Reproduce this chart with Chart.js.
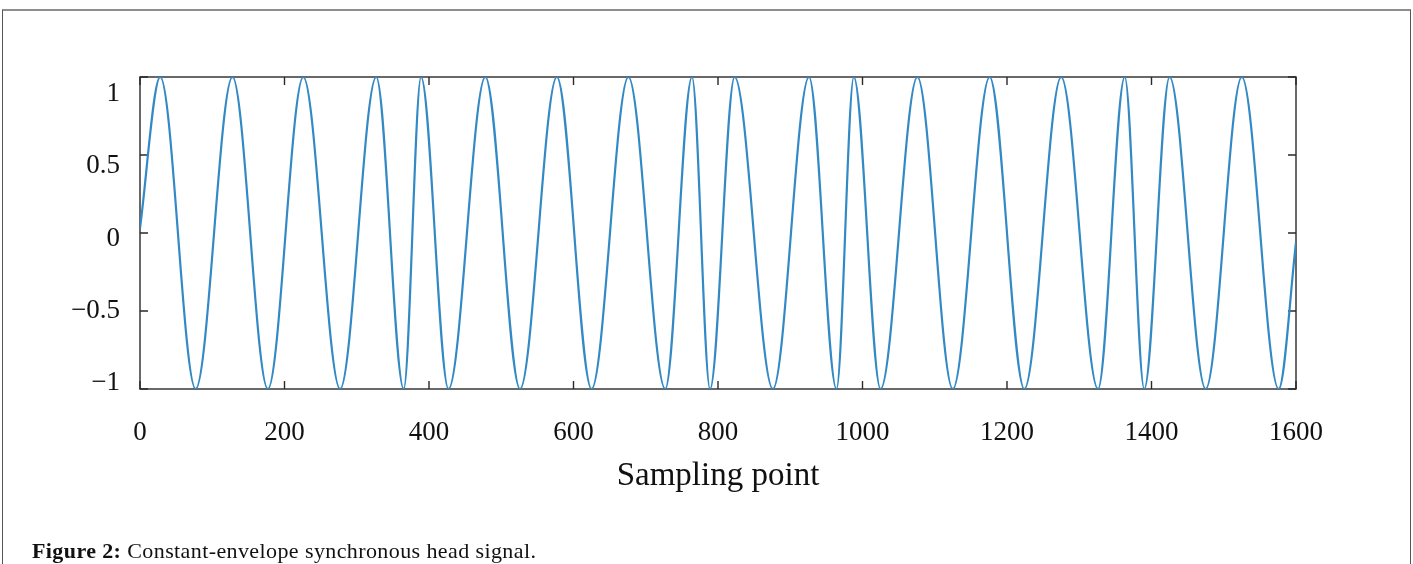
<!DOCTYPE html>
<html>
<head>
<meta charset="utf-8">
<title>Constant-envelope synchronous head signal</title>
<script src="https://cdn.jsdelivr.net/npm/chart.js@4.4.1/dist/chart.umd.min.js"></script>
<style>
  html, body { margin: 0; padding: 0; background: #fff; }
  body { width: 1413px; height: 564px; position: relative; overflow: hidden; }
  #frame {
    position: absolute; left: 2px; top: 9px; width: 1407px; height: 600px;
    border-top: 2px solid #8e8e8e; border-left: 1px solid #555; border-right: 1px solid #555;
  }
  #chart { position: absolute; left: 0; top: 0; }
  #caption {
    position: absolute; left: 32px; top: 540px;
    font-family: "Liberation Serif", serif; font-size: 22px; line-height: 22px;
    letter-spacing: 0.4px; color: #111; white-space: nowrap;
  }
</style>
</head>
<body>
<div id="frame"></div>
<canvas id="chart" width="1413" height="564"></canvas>
<div id="caption"><b>Figure 2:</b> Constant-envelope synchronous head signal.</div>
<script>
// Turning points of the head signal (sample index and amplitude),
// plus the first and last sample of the record.
const sampleIndex = [
  0, 28, 77, 128, 177, 226, 277, 327, 365, 389, 427, 478, 526, 577, 625, 676, 727,
  764, 789, 823, 876, 926, 964, 988, 1025, 1076, 1125, 1176, 1224, 1275, 1326,
  1363, 1390, 1425, 1475, 1525, 1576, 1600
];
const amplitude = [
  0.03, 1, -1, 1, -1, 1, -1, 1, -1, 1, -1, 1, -1, 1, -1, 1, -1,
  1, -1, 1, -1, 1, -1, 1, -1, 1, -1, 1, -1, 1, -1,
  1, -1, 1, -1, 1, -1, -0.06
];

const xTickValues = [0, 200, 400, 600, 800, 1000, 1200, 1400, 1600];
const yTickValues = [-1, -0.5, 0, 0.5, 1];

const serif = 'Liberation Serif';
const fmt = v => String(v).replace('-', '\u2212');

// Plot frame with inward tick marks on all four sides
const boxAndTicks = {
  id: 'boxAndTicks',
  beforeDatasetsDraw(chart) {
    const { ctx, chartArea: a, scales: { x, y } } = chart;
    const len = 8;
    ctx.save();
    ctx.strokeStyle = '#2a2a2a';
    ctx.lineWidth = 1.4;
    ctx.strokeRect(a.left, a.top, a.right - a.left, a.bottom - a.top);
    ctx.beginPath();
    xTickValues.forEach(v => {
      const px = x.getPixelForValue(v);
      ctx.moveTo(px, a.bottom); ctx.lineTo(px, a.bottom - len);
      ctx.moveTo(px, a.top);    ctx.lineTo(px, a.top + len);
    });
    yTickValues.forEach(v => {
      const py = y.getPixelForValue(v);
      ctx.moveTo(a.left, py);  ctx.lineTo(a.left + len, py);
      ctx.moveTo(a.right, py); ctx.lineTo(a.right - len, py);
    });
    ctx.stroke();
    ctx.restore();
  }
};

new Chart(document.getElementById('chart'), {
  type: 'line',
  data: {
    datasets: [{
      data: sampleIndex.map((s, i) => ({ x: s, y: amplitude[i] })),
      xAxisID: 'x',
      yAxisID: 'y',
      borderColor: '#3389c4',
      borderWidth: 2.2,
      pointRadius: 0,
      fill: false,
      cubicInterpolationMode: 'monotone'
    }]
  },
  options: {
    responsive: false,
    animation: false,
    devicePixelRatio: 1,
    layout: { padding: { left: 0, top: 77, right: 117, bottom: 65 } },
    plugins: { legend: { display: false }, tooltip: { enabled: false } },
    scales: {
      x: {
        type: 'linear', min: 0, max: 1600,
        afterBuildTicks: s => { s.ticks = xTickValues.map(v => ({ value: v })); },
        grid: { display: false, drawTicks: false },
        border: { display: false },
        ticks: {
          padding: 28, color: '#111', maxRotation: 0, autoSkip: false,
          font: { family: serif, size: 27 },
          callback: v => fmt(v)
        },
        title: {
          display: true, text: 'Sampling point', color: '#111',
          font: { family: serif, size: 33 },
          padding: { top: 0, bottom: 3 }
        },
        afterFit: s => { s.height = 110; s.paddingLeft = 0; s.paddingRight = 0; }
      },
      y: { type: 'linear', display: false, min: -1, max: 1 },
      yl: {
        type: 'linear', position: 'left', min: -1.04, max: 1.118,
        afterBuildTicks: s => { s.ticks = yTickValues.map(v => ({ value: v })); },
        grid: { display: false, drawTicks: false },
        border: { display: false },
        ticks: {
          padding: 20, color: '#111',
          font: { family: serif, size: 27 },
          callback: v => fmt(v)
        },
        afterFit: s => { s.width = 140; s.paddingTop = 0; s.paddingBottom = 0; }
      }
    }
  },
  plugins: [boxAndTicks]
});
</script>
</body>
</html>
